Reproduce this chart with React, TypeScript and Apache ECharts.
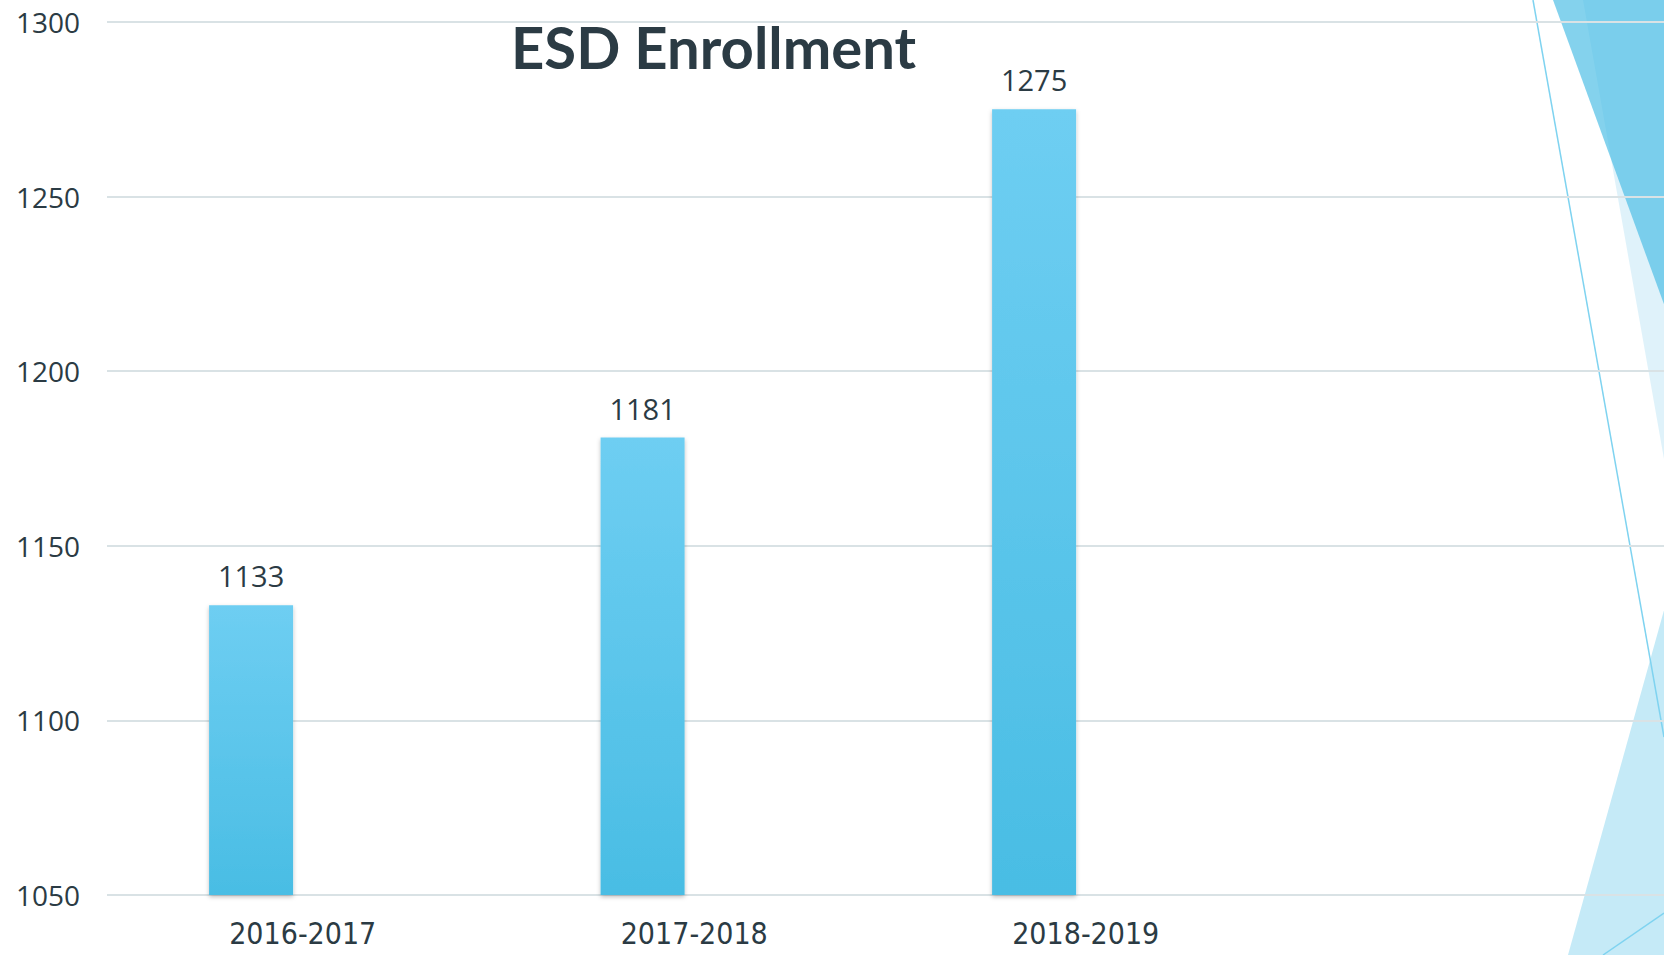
import React, { useEffect, useRef } from "react";
import * as echarts from "echarts";

const categories = ["2016-2017", "2017-2018", "2018-2019", ""];
const enrollment = [1133, 1181, 1275, null];
const emptySeries = [null, null, null, null];
const yMin = 1050;
const yMax = 1300;
const yStep = 50;
const titleText = "ESD Enrollment";

const TEXT = "#2b3b44";

export default function App() {
  const ref = useRef<HTMLDivElement>(null);
  useEffect(() => {
    document.body.style.margin = "0";
    const chart = echarts.init(ref.current!, null, { renderer: "svg" });
    chart.setOption({
      animation: false,
      backgroundColor: "#ffffff",
      title: {
        text: titleText,
        left: 506,
        top: 12,
        textStyle: { fontFamily: "Lato", fontWeight: "bold", fontSize: 58, color: TEXT },
      },
      grid: { left: 107, right: 0, top: 22, bottom: 60, containLabel: false },
      xAxis: {
        type: "category",
        data: categories,
        axisLine: { show: false },
        axisTick: { show: false },
        axisLabel: {
          color: TEXT,
          fontFamily: "Liberation Sans Narrow, DejaVu Sans Condensed, sans-serif",
          fontSize: 30,
          margin: 23,
        },
      },
      yAxis: {
        type: "value",
        min: yMin,
        max: yMax,
        interval: yStep,
        axisLine: { show: false },
        axisTick: { show: false },
        splitLine: { lineStyle: { color: "#d9e2e5", width: 2 } },
        axisLabel: {
          color: TEXT,
          fontFamily: "Open Sans",
          fontSize: 28,
          margin: 27,
          formatter: (v: number) => String(v),
        },
      },
      graphic: [
        {
          type: "polygon",
          z: -10,
          shape: { points: [[1583, 0], [1673, 0], [1673, 510]] },
          style: { fill: "#dff2fa" },
        },
        {
          type: "polygon",
          z: -9,
          shape: { points: [[1553, 0], [1673, 0], [1673, 329]] },
          style: { fill: "rgba(74,189,228,0.68)" },
        },
        {
          type: "polygon",
          z: -10,
          shape: { points: [[1666, 603], [1673, 603], [1673, 955], [1568, 955]] },
          style: { fill: "#c5eaf7" },
        },
        {
          type: "line",
          z: -8,
          shape: { x1: 1533, y1: 0, x2: 1664, y2: 737 },
          style: { stroke: "#7fd3f0", lineWidth: 1.5 },
        },
        {
          type: "line",
          z: -8,
          shape: { x1: 1603, y1: 955, x2: 1664, y2: 913 },
          style: { stroke: "#7fd3f0", lineWidth: 1.5 },
        },
      ],
      series: [
        {
          type: "bar",
          data: enrollment,
          barWidth: 84,
          barGap: "23%",
          itemStyle: {
            color: new echarts.graphic.LinearGradient(0, 0, 0, 1, [
              { offset: 0, color: "#6ecef2" },
              { offset: 1, color: "#49bde4" },
            ]),
            shadowBlur: 4,
            shadowColor: "rgba(0,0,0,0.25)",
            shadowOffsetY: 2,
          },
          label: {
            show: true,
            position: "top",
            distance: 15,
            color: TEXT,
            fontFamily: "Open Sans",
            fontSize: 29,
          },
        },
        {
          type: "bar",
          data: emptySeries,
          barWidth: 84,
          barGap: "23%",
        },
      ],
    });
    return () => chart.dispose();
  }, []);
  return (
    <div style={{ width: 1664, height: 955, overflow: "hidden", position: "relative" }}>
      <div ref={ref} style={{ width: 1673, height: 955 }} />
    </div>
  );
}
